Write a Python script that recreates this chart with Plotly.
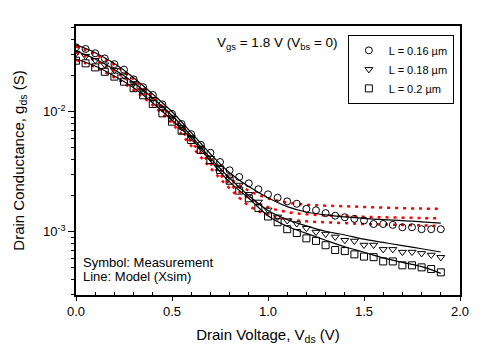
import plotly.graph_objects as go

# Measurement grid (V)
v_meas = [0.00, 0.05, 0.10, 0.15, 0.20, 0.25, 0.30, 0.35, 0.40, 0.45,
          0.50, 0.55, 0.60, 0.65, 0.70, 0.75, 0.80, 0.85, 0.90, 0.95,
          1.00, 1.05, 1.10, 1.15, 1.20, 1.25, 1.30, 1.35, 1.40, 1.45,
          1.50, 1.55, 1.60, 1.65, 1.70, 1.75, 1.80, 1.85, 1.90]

gds_016 = [0.0344, 0.0333, 0.0307, 0.0278, 0.0249, 0.0224, 0.0186, 0.0160, 0.0138, 0.0115,
           0.0096, 0.0079, 0.0065, 0.0053, 0.00455, 0.00381, 0.00325, 0.00286, 0.00253, 0.00226,
           0.00205, 0.00192, 0.00179, 0.00171, 0.00155, 0.00151, 0.00143, 0.00136, 0.00132, 0.00128,
           0.00124, 0.00116, 0.00116, 0.00114, 0.00109, 0.00109, 0.00105, 0.00105, 0.00105]

gds_018 = [0.0307, 0.0290, 0.0268, 0.0246, 0.0222, 0.0199, 0.0172, 0.0149, 0.0127, 0.0106,
           0.0089, 0.0074, 0.0061, 0.0050, 0.0041, 0.00341, 0.00287, 0.00245, 0.00205, 0.00177,
           0.00152, 0.00133, 0.00124, 0.00117, 0.00107, 0.000994, 0.000957, 0.000905, 0.00085, 0.000837,
           0.000775, 0.000775, 0.000713, 0.000713, 0.000677, 0.000677, 0.00066, 0.00064, 0.000612]

gds_020 = [0.0266, 0.0253, 0.0234, 0.0215, 0.0196, 0.0178, 0.0157, 0.0137, 0.0116, 0.0097,
           0.00826, 0.00695, 0.00581, 0.0048, 0.00396, 0.00327, 0.00266, 0.0022, 0.0019, 0.00158,
           0.00134, 0.0012, 0.00105, 0.000976, 0.000881, 0.000839, 0.000772, 0.000704, 0.00069, 0.000648,
           0.000621, 0.000614, 0.000566, 0.000566, 0.000525, 0.000525, 0.000505, 0.000489, 0.000459]

# Model grid (V)
v_model = [0.0, 0.1, 0.2, 0.3, 0.4, 0.5, 0.6, 0.7, 0.8, 0.9,
           1.0, 1.1, 1.2, 1.3, 1.4, 1.5, 1.6, 1.7, 1.8, 1.9]

model_016 = [0.036, 0.031, 0.0252, 0.0192, 0.0140, 0.0100, 0.0067, 0.00445, 0.0031, 0.00238,
             0.00192, 0.00162, 0.00146, 0.00138, 0.00133, 0.00129, 0.00126, 0.00124, 0.00121, 0.00118]
model_018 = [0.032, 0.0275, 0.0225, 0.0175, 0.0130, 0.0093, 0.0063, 0.0041, 0.0028, 0.0020,
             0.0015, 0.00126, 0.00112, 0.00101, 0.00094, 0.000868, 0.000815, 0.000765, 0.000722, 0.000678]
model_020 = [0.0275, 0.024, 0.0198, 0.0158, 0.0118, 0.0085, 0.0060, 0.0039, 0.0026, 0.0019,
             0.00136, 0.00111, 0.00097, 0.00085, 0.00075, 0.000675, 0.000605, 0.000555, 0.000512, 0.00045]

alt_016 = [0.035, 0.030, 0.0245, 0.0186, 0.0133, 0.0091, 0.0060, 0.0040, 0.0028, 0.0022,
           0.0019, 0.00175, 0.00168, 0.00165, 0.00163, 0.00161, 0.00159, 0.00157, 0.00156, 0.00155]
alt_018 = [0.031, 0.0267, 0.0218, 0.0168, 0.0123, 0.0085, 0.0056, 0.0037, 0.0025, 0.0019,
           0.0016, 0.00146, 0.0014, 0.00137, 0.00135, 0.00133, 0.00132, 0.00131, 0.0013, 0.00129]
alt_020 = [0.027, 0.0235, 0.0193, 0.0152, 0.0113, 0.0080, 0.0052, 0.0034, 0.0023, 0.00165,
           0.00138, 0.00127, 0.00122, 0.0012, 0.00118, 0.00116, 0.00115, 0.00114, 0.00113, 0.00112]

legend_names = ["L = 0.16 µm", "L = 0.18 µm", "L = 0.2 µm"]
symbols = ["circle-open", "triangle-down-open", "square-open"]

FONT = "Liberation Sans, Arial, sans-serif"

fig = go.Figure()

for alt in [alt_016, alt_018, alt_020]:
    fig.add_trace(go.Scatter(x=v_model, y=alt, mode="lines", line_shape="spline",
                             line=dict(color="#ff0000", width=2.5, dash="3px,5px"),
                             showlegend=False, hoverinfo="skip"))

for mdl in [model_016, model_018, model_020]:
    fig.add_trace(go.Scatter(x=v_model, y=mdl, mode="lines", line_shape="spline",
                             line=dict(color="black", width=1.2),
                             showlegend=False, hoverinfo="skip"))

for name, sym, ys in zip(legend_names, symbols, [gds_016, gds_018, gds_020]):
    fig.add_trace(go.Scatter(x=v_meas, y=ys, mode="markers", name=name,
                             marker=dict(symbol=sym, size=7, color="black",
                                         line=dict(color="black", width=1))))

minor_vals = [m * 10 ** e for e in (-4, -3, -2) for m in range(2, 10)]

fig.update_layout(
    width=488, height=360,
    margin=dict(l=76, r=28, t=26, b=65, autoexpand=False),
    paper_bgcolor="white", plot_bgcolor="white",
    font=dict(family=FONT, color="black", size=12),
    showlegend=True,
    legend=dict(x=0.708, y=0.967, xanchor="left", yanchor="top",
                bgcolor="white", bordercolor="black", borderwidth=1,
                font=dict(size=11, family=FONT), tracegroupgap=0,
                itemwidth=30),
    xaxis=dict(range=[0, 2], tickvals=[0, 0.5, 1.0, 1.5, 2.0],
               ticktext=["0.0", "0.5", "1.0", "1.5", "2.0"],
               ticks="outside", ticklen=4, tickcolor="black", tickwidth=1,
               showline=True, linecolor="black", linewidth=1.5, mirror=True,
               showgrid=False, zeroline=False, automargin=False,
               tickfont=dict(size=13, family=FONT),
               minor=dict(tickvals=[0.1, 0.2, 0.3, 0.4, 0.6, 0.7, 0.8, 0.9, 1.1, 1.2, 1.3, 1.4,
                                    1.6, 1.7, 1.8, 1.9],
                          ticks="inside", ticklen=3, tickcolor="black", showgrid=False),
               title=dict(text="Drain Voltage, V<sub>ds</sub> (V)", font=dict(size=15, family=FONT),
                          standoff=11)),
    yaxis=dict(type="log", range=[-3.527, -1.286],
               tickvals=[1e-3, 1e-2], ticktext=["10<sup>-3</sup>", "10<sup>-2</sup>"],
               ticks="outside", ticklen=6, tickcolor="black", tickwidth=1,
               showline=True, linecolor="black", linewidth=1.5, mirror=True,
               showgrid=False, zeroline=False, automargin=False,
               tickfont=dict(size=13, family=FONT),
               minor=dict(tickvals=minor_vals, ticks="outside", ticklen=3,
                          tickcolor="black", showgrid=False),
               title=dict(text="Drain Conductance, g<sub>ds</sub> (S)", font=dict(size=15, family=FONT),
                          standoff=15)),
    annotations=[
        dict(text="V<sub>gs</sub> = 1.8 V (V<sub>bs</sub> = 0)", xref="paper", yref="paper",
             x=0.363, y=0.935, xanchor="left", yanchor="middle", showarrow=False,
             font=dict(size=13.5, family=FONT)),
        dict(text="Symbol: Measurement", xref="paper", yref="paper",
             x=0.012, y=0.12, xanchor="left", yanchor="middle", showarrow=False,
             font=dict(size=13, family=FONT)),
        dict(text="Line: Model (Xsim)", xref="paper", yref="paper",
             x=0.012, y=0.07, xanchor="left", yanchor="middle", showarrow=False,
             font=dict(size=13, family=FONT)),
    ],
)

fig.write_html("out.html", config={"displayModeBar": False},
               post_script="document.body.style.margin='0';document.body.style.padding='0';")
